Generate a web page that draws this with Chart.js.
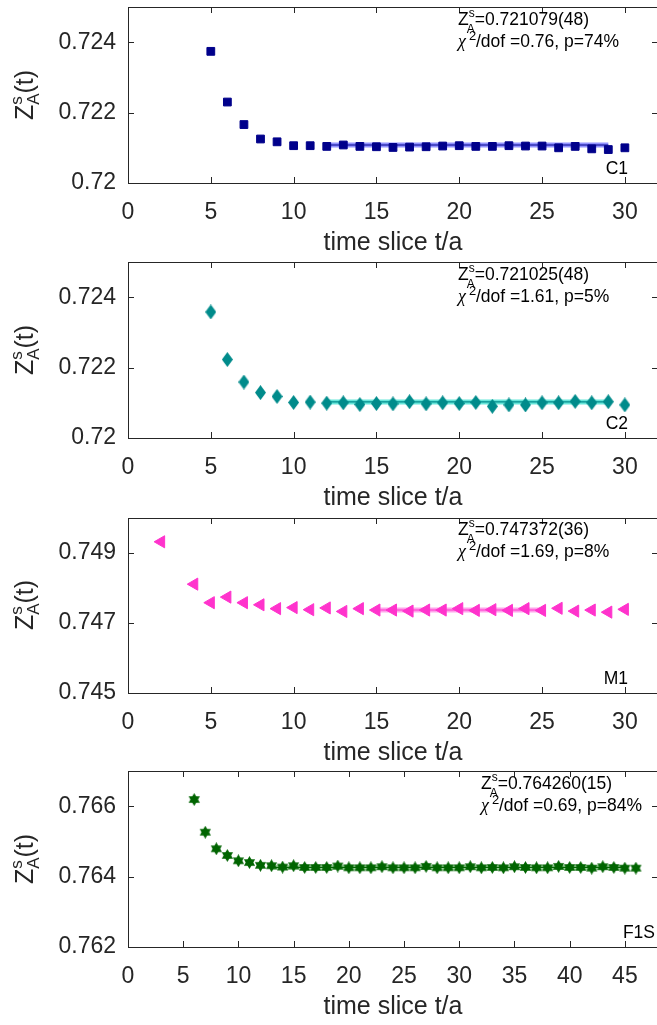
<!DOCTYPE html>
<html>
<head>
<meta charset="utf-8">
<script src="https://cdn.jsdelivr.net/npm/chart.js@4.4.0/dist/chart.umd.min.js"></script>
<style>
  html, body { margin: 0; padding: 0; background: #fff; }
  body { width: 657px; height: 1025px; position: relative; overflow: hidden; }
  .panel { position: absolute; left: 0; width: 657px; height: 255px; overflow: hidden; }
</style>
</head>
<body>
<div class="panel" style="top:0px"><canvas id="c1" width="700" height="255"></canvas></div>
<div class="panel" style="top:255px"><canvas id="c2" width="700" height="255"></canvas></div>
<div class="panel" style="top:510px"><canvas id="c3" width="700" height="255"></canvas></div>
<div class="panel" style="top:764px"><canvas id="c4" width="700" height="255"></canvas></div>
<script>
// ===== data =====
const tC1 = [5,6,7,8,9,10,11,12,13,14,15,16,17,18,19,20,21,22,23,24,25,26,27,28,29,30];
const zC1 = [0.72374,0.72230,0.72166,0.72125,0.72117,0.72106,0.72106,0.72104,0.72108,0.72104,
             0.72103,0.72101,0.72102,0.72103,0.72105,0.72106,0.72104,0.72104,0.72106,0.72105,
             0.72105,0.72100,0.72104,0.72097,0.72095,0.72100];
const fitC1 = { value: 0.721079, from: 12, to: 29, text: '=0.721079(48)', chi: '/dof =0.76, p=74%' };

const tC2 = [5,6,7,8,9,10,11,12,13,14,15,16,17,18,19,20,21,22,23,24,25,26,27,28,29,30];
const zC2 = [0.72358,0.72223,0.72159,0.72129,0.72118,0.72101,0.72102,0.72099,0.72100,0.72095,
             0.72098,0.72097,0.72103,0.72097,0.72100,0.72098,0.72101,0.72090,0.72094,0.72094,
             0.72100,0.72100,0.72104,0.72100,0.72103,0.72094];
const fitC2 = { value: 0.721025, from: 12, to: 29, text: '=0.721025(48)', chi: '/dof =1.61, p=5%' };

const tM1 = [2,4,5,6,7,8,9,10,11,12,13,14,15,16,17,18,19,20,21,22,23,24,25,26,27,28,29,30];
const zM1 = [0.74932,0.74811,0.74758,0.74774,0.74758,0.74752,0.74741,0.74744,0.74738,0.74743,
             0.74733,0.74741,0.74737,0.74737,0.74734,0.74737,0.74737,0.74741,0.74736,0.74738,
             0.74736,0.74741,0.74736,0.74742,0.74734,0.74737,0.74731,0.74739];
const fitM1 = { value: 0.747372, from: 15, to: 25, text: '=0.747372(36)', chi: '/dof =1.69, p=8%' };

const tF1S = [6,7,8,9,10,11,12,13,14,15,16,17,18,19,20,21,22,23,24,25,26,
              27,28,29,30,31,32,33,34,35,36,37,38,39,40,41,42,43,44,45,46];
const zF1S = [0.76619,0.76526,0.76479,0.76460,0.76445,0.76440,0.76432,0.76431,0.76427,0.76431,
              0.76426,0.76426,0.76426,0.76430,0.76425,0.76425,0.76425,0.76428,0.76425,0.76425,
              0.76425,0.76429,0.76425,0.76425,0.76425,0.76428,0.76425,0.76426,0.76425,0.76428,
              0.76426,0.76425,0.76425,0.76429,0.76426,0.76426,0.76424,0.76428,0.76426,0.76424,0.76424];
const fitF1S = { value: 0.764260, from: 13, to: 45, text: '=0.764260(15)', chi: '/dof =0.69, p=84%' };

const xTicks30 = [0,5,10,15,20,25,30];
const xTicks45 = [0,5,10,15,20,25,30,35,40,45];
const yTicksC = [0.720, 0.722, 0.724];
const yLabelsC = ['0.72', '0.722', '0.724'];
const yTicksM1 = [0.745, 0.747, 0.749];
const yLabelsM1 = ['0.745', '0.747', '0.749'];
const yTicksF1S = [0.762, 0.764, 0.766];
const yLabelsF1S = ['0.762', '0.764', '0.766'];

// ===== markers =====
function makeMarker(w, h, color, drawFn) {
  const c = document.createElement('canvas');
  c.width = w; c.height = h;
  const g = c.getContext('2d');
  g.fillStyle = color;
  drawFn(g, w, h);
  return c;
}
function diamond(g, w, h) {
  g.beginPath();
  g.moveTo(w / 2, 0); g.lineTo(w, h / 2); g.lineTo(w / 2, h); g.lineTo(0, h / 2);
  g.closePath(); g.fill();
}
function hexagram(g, w, h) {
  const cx = w / 2, cy = h / 2, r = h / 2;
  for (const rot of [0, Math.PI]) {
    g.beginPath();
    for (let k = 0; k < 3; k++) {
      const a = rot - Math.PI / 2 + k * 2 * Math.PI / 3;
      const px = cx + r * Math.cos(a), py = cy + r * Math.sin(a);
      if (k === 0) g.moveTo(px, py); else g.lineTo(px, py);
    }
    g.closePath(); g.fill();
  }
}

const FONT = '"Liberation Sans", Arial, Helvetica, sans-serif';
const TXT = '#262626';

// ===== frame, inward ticks, labels =====
function panelPlugin(cfg) {
  return {
    id: 'panelDeco',
    afterDraw(chart) {
      const { ctx, chartArea: a, scales } = chart;
      ctx.save();
      ctx.strokeStyle = TXT;
      ctx.lineWidth = 1;
      ctx.strokeRect(a.left + 0.5, a.top + 0.5, a.right - a.left, a.bottom - a.top);
      const tl = 6;
      ctx.beginPath();
      scales.x.ticks.forEach(t => {
        const px = Math.round(scales.x.getPixelForValue(t.value)) + 0.5;
        ctx.moveTo(px, a.bottom); ctx.lineTo(px, a.bottom - tl);
        ctx.moveTo(px, a.top); ctx.lineTo(px, a.top + tl);
      });
      scales.y.ticks.forEach(t => {
        const py = Math.round(scales.y.getPixelForValue(t.value)) + 0.5;
        ctx.moveTo(a.left, py); ctx.lineTo(a.left + tl, py);
        ctx.moveTo(a.right, py); ctx.lineTo(a.right - tl, py);
      });
      ctx.stroke();

      // y title  Z^s_A(t)
      ctx.save();
      ctx.translate(33, 95);
      ctx.rotate(-Math.PI / 2);
      ctx.fillStyle = TXT;
      ctx.textBaseline = 'alphabetic';
      const big = '25px ' + FONT, small = '17px ' + FONT;
      ctx.font = big; const wZ = ctx.measureText('Z').width; const wT = ctx.measureText('(t)').width;
      ctx.font = small; const wA = ctx.measureText('A').width;
      let x = -(wZ + wA + wT) / 2;
      ctx.font = big; ctx.fillText('Z', x, 0); x += wZ;
      ctx.font = small; ctx.fillText('s', x, -11); ctx.fillText('A', x, 6); x += wA;
      ctx.font = big; ctx.fillText('(t)', x, 0);
      ctx.restore();

      // fit annotation
      const x0 = cfg.annoX;
      ctx.fillStyle = '#000';
      ctx.textBaseline = 'alphabetic';
      ctx.font = '17.5px ' + FONT;
      ctx.fillText('Z', x0, 25);
      const wz = ctx.measureText('Z').width;
      ctx.font = '12px ' + FONT;
      ctx.fillText('s', x0 + wz, 17);
      ctx.fillText('A', x0 + wz - 2, 33);
      ctx.font = '17.5px ' + FONT;
      ctx.fillText(cfg.fit.text, x0 + wz + 6, 25);
      ctx.font = 'italic 18px "Liberation Serif", "DejaVu Serif", serif';
      ctx.fillText('\u03C7', x0, 47);
      const wc = ctx.measureText('\u03C7').width;
      ctx.font = '13px ' + FONT;
      ctx.fillText('2', x0 + wc + 3, 40);
      ctx.font = '17.5px ' + FONT;
      ctx.fillText(cfg.fit.chi, x0 + wc + 10, 47);

      // ensemble label
      ctx.textAlign = 'right';
      ctx.fillText(cfg.name, cfg.nameX, 174);
      ctx.restore();
    }
  };
}

function makePanel(id, opt) {
  const band = [{ x: opt.fit.from, y: opt.fit.value }, { x: opt.fit.to, y: opt.fit.value }];
  new Chart(document.getElementById(id), {
    type: 'scatter',
    data: {
      datasets: [
        {
          data: opt.t.map((t, i) => ({ x: t, y: opt.z[i] })),
          pointStyle: opt.pointStyle,
          pointRotation: opt.rotation || 0,
          pointRadius: opt.radius,
          backgroundColor: opt.color,
          borderColor: opt.color,
          borderWidth: 1,
          order: 0
        },
        {
          type: 'line', data: band, showLine: true, pointRadius: 0,
          borderColor: opt.bandColor, borderWidth: 5, order: 2
        },
        {
          type: 'line', data: band, showLine: true, pointRadius: 0,
          borderColor: opt.color, borderWidth: 1.2, order: 1
        }
      ]
    },
    options: {
      responsive: false,
      animation: false,
      events: [],
      // canvas is 700 wide and clipped at 657, so the right axis sits at the picture edge
      layout: { padding: { top: 7, right: 42, bottom: 0, left: 0 } },
      plugins: { legend: { display: false }, tooltip: { enabled: false } },
      scales: {
        x: {
          type: 'linear', min: 0, max: opt.xMax,
          grid: { display: false, drawTicks: false },
          border: { display: false },
          afterBuildTicks: s => { s.ticks = opt.xTicks.map(v => ({ value: v })); },
          afterFit: s => { s.height = 72; s.paddingLeft = 0; s.paddingRight = 0; },
          ticks: { color: TXT, font: { family: FONT, size: 23 }, padding: 16, maxRotation: 0, autoSkip: false },
          title: { display: true, text: 'time slice t/a', color: TXT,
                   font: { family: FONT, size: 25, lineHeight: 1 }, padding: { top: 0, bottom: -1 } }
        },
        y: {
          type: 'linear', min: opt.yMin, max: opt.yMax,
          grid: { display: false, drawTicks: false },
          border: { display: false },
          afterBuildTicks: s => { s.ticks = opt.yTicks.map(v => ({ value: v })); },
          afterFit: s => { s.width = 128; s.paddingTop = 0; s.paddingBottom = 0; },
          ticks: { color: TXT, font: { family: FONT, size: 23 }, padding: 12,
                   callback: (v, i) => opt.yLabels[i] }
        }
      }
    },
    plugins: [panelPlugin(opt)]
  });
}

const diamondImg = makeMarker(11, 15, '#008b8b', diamond);
const starImg = makeMarker(13, 13, '#006400', hexagram);

makePanel('c1', { t: tC1, z: zC1, fit: fitC1, name: 'C1', nameX: 628, annoX: 458,
  xMax: 32, xTicks: xTicks30, yMin: 0.720, yMax: 0.725, yTicks: yTicksC, yLabels: yLabelsC,
  pointStyle: 'rect', radius: 5.5, color: '#00008b', bandColor: 'rgba(110,110,255,0.75)' });
makePanel('c2', { t: tC2, z: zC2, fit: fitC2, name: 'C2', nameX: 628, annoX: 458,
  xMax: 32, xTicks: xTicks30, yMin: 0.720, yMax: 0.725, yTicks: yTicksC, yLabels: yLabelsC,
  pointStyle: diamondImg, radius: 6, color: '#008b8b', bandColor: 'rgba(64,224,208,0.8)' });
makePanel('c3', { t: tM1, z: zM1, fit: fitM1, name: 'M1', nameX: 628, annoX: 458,
  xMax: 32, xTicks: xTicks30, yMin: 0.745, yMax: 0.750, yTicks: yTicksM1, yLabels: yLabelsM1,
  pointStyle: 'triangle', rotation: -90, radius: 7, color: '#ff33cc', bandColor: 'rgba(255,140,230,0.8)' });
makePanel('c4', { t: tF1S, z: zF1S, fit: fitF1S, name: 'F1S', nameX: 655, annoX: 481,
  xMax: 48, xTicks: xTicks45, yMin: 0.762, yMax: 0.767, yTicks: yTicksF1S, yLabels: yLabelsF1S,
  pointStyle: starImg, radius: 6, color: '#006400', bandColor: 'rgba(120,190,120,0.7)' });
</script>
</body>
</html>
